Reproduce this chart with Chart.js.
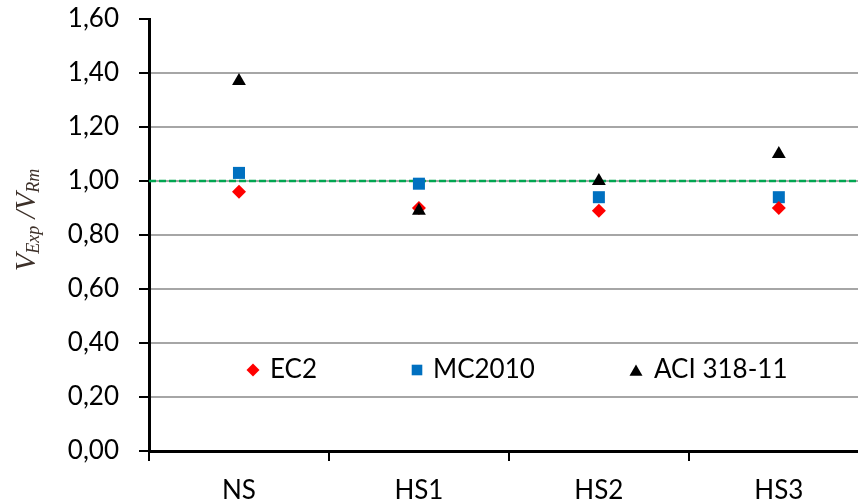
<!DOCTYPE html>
<html>
<head>
<meta charset="utf-8">
<script src="https://cdn.jsdelivr.net/npm/chart.js@4/dist/chart.umd.min.js"></script>
<style>
  html, body { margin: 0; padding: 0; background: #fff; }
  #wrap { width: 858px; height: 503px; }
</style>
</head>
<body>
<div id="wrap"><canvas id="grafico" width="858" height="503"></canvas></div>
<script>
// Datos
const categories = ['NS', 'HS1', 'HS2', 'HS3'];
const ec2 = [0.96, 0.90, 0.89, 0.90];
const mc2010 = [1.03, 0.99, 0.94, 0.94];
const aci = [1.37, 0.89, 1.00, 1.10];
const seriesNames = ['EC2', 'MC2010', 'ACI 318-11'];
const yTicks = [0, 0.2, 0.4, 0.6, 0.8, 1.0, 1.2, 1.4, 1.6];
const refValue = 1.0;

const fontTicks = { family: 'Lato', size: 26 };
const xMin = -0.5, xMax = 3.44;

const toPoints = arr => arr.map((v, i) => ({ x: i, y: v }));

// Título del eje Y con subíndices
const yTitlePlugin = {
  id: 'yTitle',
  afterDraw(chart) {
    const ctx = chart.ctx;
    const parts = [
      { t: 'V', size: 29, dy: 0 },
      { t: 'Exp', size: 18, dy: 4 },
      { t: ' /', size: 29, dy: 0 },
      { t: 'V', size: 29, dy: 0 },
      { t: 'Rm', size: 18, dy: 4 }
    ];
    ctx.save();
    let total = 0;
    parts.forEach(p => {
      ctx.font = 'italic ' + p.size + 'px "Liberation Serif"';
      p.w = ctx.measureText(p.t).width;
      total += p.w;
    });
    ctx.translate(35, 220 + total / 2);
    ctx.rotate(-Math.PI / 2);
    ctx.fillStyle = '#3d3029';
    ctx.textBaseline = 'alphabetic';
    let x = 0;
    parts.forEach(p => {
      ctx.font = 'italic ' + p.size + 'px "Liberation Serif"';
      ctx.fillText(p.t, x, p.dy);
      x += p.w;
    });
    ctx.restore();
  }
};

// Leyenda dentro del área del gráfico
const legendPlugin = {
  id: 'leyenda',
  afterDatasetsDraw(chart) {
    const ctx = chart.ctx;
    const y = chart.scales.y.getPixelForValue(0.30);
    const items = [
      { style: 'rectRot', color: '#ff0000', r: 6.5, mx: 253, tx: 270 },
      { style: 'rect', color: '#0070c0', r: 7.5, mx: 417, tx: 433 },
      { style: 'triangle', color: '#000000', r: 7.5, mx: 636, tx: 654 }
    ];
    ctx.save();
    items.forEach((it, i) => {
      ctx.fillStyle = it.color;
      ctx.strokeStyle = it.color;
      ctx.lineWidth = 1;
      Chart.helpers.drawPoint(ctx, { pointStyle: it.style, radius: it.r, rotation: 0, borderWidth: 0 }, it.mx, it.style === 'triangle' ? y + 2 : y);
      ctx.fillStyle = '#000';
      ctx.font = '26px Lato';
      ctx.textBaseline = 'middle';
      ctx.fillText(seriesNames[i], it.tx, y);
    });
    ctx.restore();
  }
};

const config = {
  type: 'scatter',
  data: {
    datasets: [
      {
        label: seriesNames[0],
        data: toPoints(ec2),
        pointStyle: 'rectRot',
        pointRadius: 7,
        backgroundColor: '#ff0000',
        borderColor: '#ff0000',
        borderWidth: 0,
        order: 1
      },
      {
        label: seriesNames[1],
        data: toPoints(mc2010),
        pointStyle: 'rect',
        pointRadius: 8.5,
        backgroundColor: '#0070c0',
        borderColor: '#0070c0',
        borderWidth: 0,
        order: 2
      },
      {
        label: seriesNames[2],
        data: toPoints(aci),
        pointStyle: 'triangle',
        pointRadius: 8,
        backgroundColor: '#000000',
        borderColor: '#000000',
        borderWidth: 0,
        order: 0
      },
      {
        type: 'line',
        label: 'ref',
        data: [{ x: xMin, y: refValue }, { x: xMax, y: refValue }],
        borderColor: '#00a651',
        borderWidth: 2.5,
        borderDash: [7, 3],
        pointRadius: 0,
        showLine: true,
        order: 10
      }
    ]
  },
  options: {
    responsive: false,
    animation: false,
    layout: { autoPadding: false, padding: { top: 19, right: 0, left: 0, bottom: 0 } },
    plugins: {
      legend: { display: false },
      tooltip: { enabled: false }
    },
    scales: {
      x: {
        type: 'linear',
        min: xMin,
        max: xMax,
        afterBuildTicks: scale => {
          scale.ticks = categories.map((c, i) => ({ value: i }));
        },
        afterFit: scale => {
          scale.height = 52;
          scale.paddingLeft = 0;
          scale.paddingRight = 0;
        },
        ticks: {
          autoSkip: false,
          maxRotation: 0,
          padding: 14,
          color: '#000',
          font: fontTicks,
          callback: v => categories[v]
        },
        grid: {
          offset: true,
          drawOnChartArea: false,
          tickLength: 10,
          color: '#000',
          lineWidth: 2
        },
        border: { display: true, color: '#000', width: 3 }
      },
      y: {
        min: 0,
        max: 1.6,
        afterBuildTicks: scale => {
          scale.ticks = yTicks.map(v => ({ value: v }));
        },
        afterFit: scale => {
          scale.width = 149;
          scale.paddingTop = 0;
          scale.paddingBottom = 0;
        },
        ticks: {
          padding: 20,
          color: '#000',
          font: fontTicks,
          callback: v => v.toFixed(2).replace('.', ',')
        },
        grid: {
          tickLength: 10,
          lineWidth: 2,
          tickColor: '#000',
          tickWidth: 2,
          color: c => (c.tick && c.tick.value > 0.01 && c.tick.value < 1.59) ? '#a6a6a6' : 'rgba(0,0,0,0)'
        },
        border: { display: true, color: '#000', width: 3 }
      }
    }
  },
  plugins: [yTitlePlugin, legendPlugin]
};

const ctxGrafico = document.getElementById('grafico').getContext('2d');
new Chart(ctxGrafico, config);
</script>
</body>
</html>
